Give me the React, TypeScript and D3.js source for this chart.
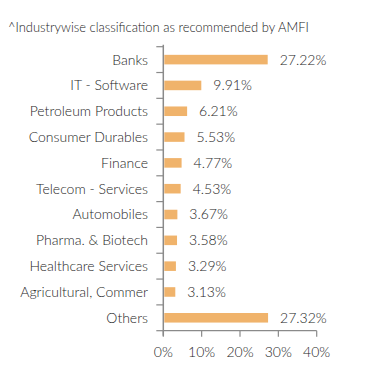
import React, { useLayoutEffect, useRef, useState } from "react";
import * as d3 from "d3";

const categories = [
  "Banks",
  "IT - Software",
  "Petroleum Products",
  "Consumer Durables",
  "Finance",
  "Telecom - Services",
  "Automobiles",
  "Pharma. & Biotech",
  "Healthcare Services",
  "Agricultural, Commer",
  "Others",
];
const values = [27.22, 9.91, 6.21, 5.53, 4.77, 4.53, 3.67, 3.58, 3.29, 3.13, 27.32];
const xTicks = [0, 10, 20, 30, 40];
const title = "^Industrywise classification as recommended by AMFI";

export default function App() {
  const W = 391;
  const H = 383;
  const x0 = 163.3;
  const x1 = 316.7;
  const yTop = 46.7;
  const yBot = 330.7;
  const x = d3.scaleLinear().domain([0, 40]).range([x0, x1]);
  const y = d3.scaleBand<string>().domain(categories).range([yTop, yBot]).paddingInner(0.63).paddingOuter(0.315);
  const band = d3.scaleBand<string>().domain(categories).range([yTop, yBot]);
  const font = "Lato, 'Open Sans', sans-serif";
  const textColor = "#262626";
  const axisColor = "#8a8a8a";
  const fs = 14;
  const titleRef = useRef<SVGTextElement>(null);
  const [titleFs, setTitleFs] = useState(11);
  useLayoutEffect(() => {
    if (titleRef.current) {
      const w = titleRef.current.getComputedTextLength();
      if (w > 0) {
        const target = 301;
        const nf = (titleFs * target) / w;
        if (Math.abs(nf - titleFs) > 0.05) setTitleFs(nf);
      }
    }
  }, [titleFs]);
  return (
    <svg width={W} height={H} style={{ position: "absolute", left: 0, top: 0, background: "#fff" }} fontFamily={font} fontWeight={300}>
      <text ref={titleRef} x={8} y={32} fontSize={titleFs} fontWeight={300} fill="#222">{title}</text>
      {/* y axis */}
      <line x1={x0} x2={x0} y1={yTop - 2} y2={yBot + 5} stroke={axisColor} strokeWidth={1.5} />
      {categories.map((c) => (
        <line key={"t" + c} x1={x0 - 7} x2={x0} y1={band(c)!} y2={band(c)!} stroke={axisColor} strokeWidth={1.2} />
      ))}
      <line x1={x0 - 7} x2={x0} y1={yBot} y2={yBot} stroke={axisColor} strokeWidth={1.2} />
      {/* x axis */}
      <line x1={x0} x2={x1} y1={yBot} y2={yBot} stroke={axisColor} strokeWidth={1.2} />
      {xTicks.map((t) => (
        <g key={"x" + t}>
          <line x1={x(t)} x2={x(t)} y1={yBot} y2={yBot + 6} stroke={axisColor} strokeWidth={1.2} />
          <text x={x(t)} y={352} dy="0.35em" textAnchor="middle" fontSize={fs} fill={textColor}>{t}%</text>
        </g>
      ))}
      {categories.map((c, i) => {
        const cy = y(c)! + y.bandwidth() / 2;
        return (
          <g key={c}>
            <rect x={x0 + 1} y={y(c)!} width={x(values[i]) - x0 - 1} height={y.bandwidth()} fill="#F0B36B" />
            <text x={148} y={cy} dy="0.35em" textAnchor="end" fontSize={fs} fill={textColor}>{c}</text>
            <text x={x(values[i]) + 12} y={cy} dy="0.35em" fontSize={fs} fill={textColor}>{values[i].toFixed(2)}%</text>
          </g>
        );
      })}
    </svg>
  );
}
